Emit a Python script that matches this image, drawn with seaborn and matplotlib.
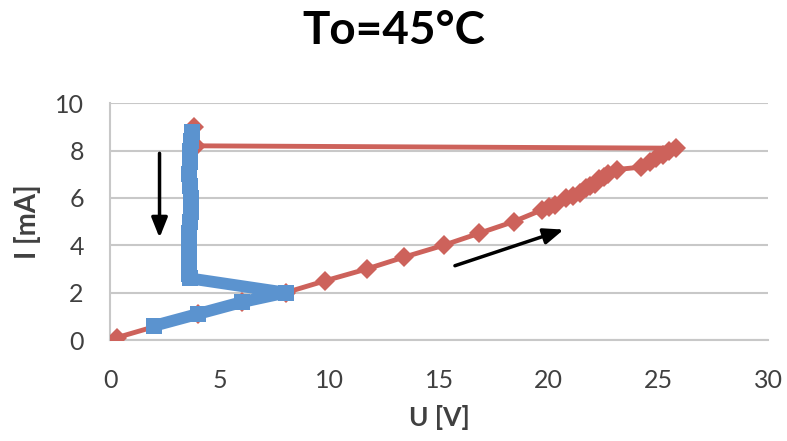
import matplotlib
matplotlib.use("Agg")
import matplotlib.pyplot as plt
import seaborn as sns
import pandas as pd

title = "To=45°C"
x_label = "U [V]"
y_label = "I [mA]"

red_u = [0.3, 4.0, 6.0, 8.0, 9.8, 11.7, 13.4, 15.2, 16.8, 18.4, 19.7, 20.0, 20.3,
         20.8, 21.1, 21.4, 21.7, 21.9, 22.1, 22.3, 22.5, 22.7, 23.1, 24.2, 24.6,
         24.9, 25.2, 25.5, 25.8, 3.9, 3.8]
red_i = [0.1, 1.1, 1.6, 2.0, 2.5, 3.0, 3.5, 4.0, 4.5, 5.0, 5.5, 5.6, 5.7,
         6.0, 6.1, 6.2, 6.4, 6.5, 6.6, 6.8, 6.9, 7.0, 7.2, 7.3, 7.5,
         7.7, 7.8, 8.0, 8.1, 8.2, 9.0]

blue_u = [3.75, 3.7, 3.65, 3.65, 3.6, 3.65, 3.7, 3.7, 3.65, 3.6, 3.6, 3.6, 3.6, 3.6,
          3.65, 8.0, 6.0, 4.0, 2.0]
blue_i = [8.8, 8.4, 8.0, 7.5, 7.0, 6.5, 6.0, 5.4, 5.0, 4.5, 4.0, 3.5, 3.0, 2.8,
          2.6, 2.0, 1.6, 1.1, 0.6]

x_ticks = [0, 5, 10, 15, 20, 25, 30]
y_ticks = [0, 2, 4, 6, 8, 10]

red_color = "#CD625B"
blue_color = "#5B93CF"

sns.set_theme(style="white")
plt.rcParams['font.family'] = ['Lato', 'DejaVu Sans']

fig = plt.figure(figsize=(7.87, 4.41), dpi=100)
ax = fig.add_axes([0.140, 0.229, 0.836, 0.537])

df_red = pd.DataFrame({"U": red_u, "I": red_i})
df_blue = pd.DataFrame({"U": blue_u, "I": blue_i})

sns.lineplot(data=df_red, x="U", y="I", sort=False, estimator=None, ax=ax, color=red_color,
             lw=3.5, marker="D", markersize=10, markeredgewidth=0, zorder=3)
sns.lineplot(data=df_blue, x="U", y="I", sort=False, estimator=None, ax=ax, color=blue_color,
             lw=8.5, marker="s", markersize=11, markeredgewidth=0, zorder=4)

ax.set_xlim(0, 30)
ax.set_ylim(0, 10)
ax.set_xticks(x_ticks)
ax.set_yticks(y_ticks)
ax.yaxis.grid(True, color="#C8C8C8", lw=1.5)
ax.xaxis.grid(False)
ax.set_axisbelow(True)
for s in ["top", "right"]:
    ax.spines[s].set_visible(False)
for s in ["left", "bottom"]:
    ax.spines[s].set_color("#C8C8C8")
    ax.spines[s].set_linewidth(1.5)
ax.tick_params(axis="x", labelsize=18, colors="#404040", length=0, pad=21)
ax.tick_params(axis="y", labelsize=18, colors="#404040", length=0, pad=19)

ax.set_xlabel(x_label, fontsize=19, fontweight="bold", color="#404040", labelpad=9)
ax.set_ylabel(y_label, fontsize=20, fontweight="bold", color="#404040", labelpad=10)
fig.suptitle(title, fontsize=33, fontweight="bold", x=0.5, y=0.93, va="center", color="black")

ax.annotate("", xy=(2.25, 4.2), xytext=(2.25, 8.0),
            arrowprops=dict(arrowstyle="-|>,head_length=1.0,head_width=0.4", color="black", lw=2.5))
ax.annotate("", xy=(20.8, 4.7), xytext=(15.6, 3.1),
            arrowprops=dict(arrowstyle="-|>,head_length=1.0,head_width=0.4", color="black", lw=2.5))

fig.savefig("out.png", dpi=100)
